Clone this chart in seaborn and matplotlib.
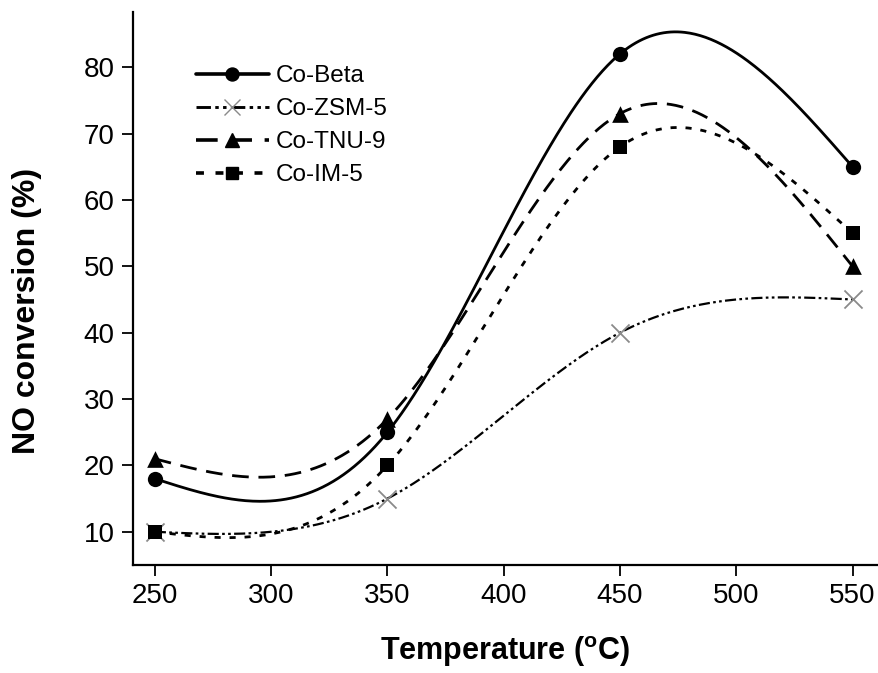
import matplotlib
matplotlib.use("Agg")
import matplotlib.pyplot as plt
import seaborn as sns
import numpy as np
import pandas as pd
from matplotlib.lines import Line2D

# Data
temps = [250, 350, 450, 550]
co_beta = [18, 25, 82, 65]
co_zsm5 = [10, 15, 40, 45]
co_tnu9 = [21, 27, 73, 50]
co_im5 = [10, 20, 68, 55]

series = {
    "Co-Beta": co_beta,
    "Co-ZSM-5": co_zsm5,
    "Co-TNU-9": co_tnu9,
    "Co-IM-5": co_im5,
}

styles = {
    "Co-Beta": dict(dashes=None, lw=2.0, marker="o", mc="black", ms=11),
    "Co-ZSM-5": dict(dashes=(5, 1.5, 1.2, 1.5, 1.2, 1.5), lw=1.6, marker="x", mc="#8a8a8a", ms=13),
    "Co-TNU-9": dict(dashes=(6, 3.5), lw=2.0, marker="^", mc="black", ms=12),
    "Co-IM-5": dict(dashes=(2.2, 3.2), lw=2.0, marker="s", mc="black", ms=10),
}


def natural_spline(x, y, xs):
    # natural cubic spline through the points
    x = np.asarray(x, float)
    y = np.asarray(y, float)
    n = len(x)
    h = np.diff(x)
    A = np.zeros((n, n))
    b = np.zeros(n)
    A[0, 0] = A[-1, -1] = 1
    for i in range(1, n - 1):
        A[i, i - 1] = h[i - 1]
        A[i, i] = 2 * (h[i - 1] + h[i])
        A[i, i + 1] = h[i]
        b[i] = 6 * ((y[i + 1] - y[i]) / h[i] - (y[i] - y[i - 1]) / h[i - 1])
    M = np.linalg.solve(A, b)
    idx = np.clip(np.searchsorted(x, xs) - 1, 0, n - 2)
    x0, x1 = x[idx], x[idx + 1]
    hh = x1 - x0
    t0, t1 = x1 - xs, xs - x0
    return (M[idx] * t0 ** 3 / (6 * hh) + M[idx + 1] * t1 ** 3 / (6 * hh)
            + (y[idx] / hh - M[idx] * hh / 6) * t0
            + (y[idx + 1] / hh - M[idx + 1] * hh / 6) * t1)


sns.set_style("ticks")
plt.rcParams['font.family'] = ['Liberation Sans', 'DejaVu Sans']
plt.rcParams['mathtext.fontset'] = 'custom'
plt.rcParams['mathtext.rm'] = 'Liberation Sans:bold'
plt.rcParams['text.color'] = 'black'
plt.rcParams['axes.labelcolor'] = 'black'
plt.rcParams['xtick.color'] = 'black'
plt.rcParams['ytick.color'] = 'black'

fig = plt.figure(figsize=(8.79, 6.73), dpi=100)
ax = fig.add_axes([0.151, 0.1605, 0.848, 0.8215])

xs = np.linspace(temps[0], temps[-1], 400)
rows = []
for name, vals in series.items():
    rows.append(pd.DataFrame({"T": xs, "conv": natural_spline(temps, vals, xs), "sample": name}))
curves = pd.concat(rows)

handles = []
for name, vals in series.items():
    st = styles[name]
    sub = curves[curves["sample"] == name]
    line, = ax.plot(sub["T"], sub["conv"], color="black", lw=st["lw"])
    if st["dashes"] is not None:
        line.set_dashes(st["dashes"])
    if st["marker"] == "x":
        sns.scatterplot(x=temps, y=vals, ax=ax, marker="x", s=st["ms"] ** 2,
                        color=st["mc"], linewidth=1.3, zorder=5, legend=False)
    else:
        sns.scatterplot(x=temps, y=vals, ax=ax, marker=st["marker"], s=st["ms"] ** 2,
                        color=st["mc"], edgecolor=st["mc"], linewidth=0, zorder=5, legend=False)
    h = Line2D([0], [0], color="black", lw=st["lw"] * 1.3, marker=st["marker"],
               markersize=st["ms"] * 0.85, markerfacecolor=st["mc"], markeredgecolor=st["mc"])
    if st["dashes"] is not None:
        h.set_dashes(st["dashes"])
    handles.append(h)

ax.set_xlim(240.5, 561)
ax.set_ylim(5, 88.3)
ax.set_xticks([250, 300, 350, 400, 450, 500, 550])
ax.set_yticks([10, 20, 30, 40, 50, 60, 70, 80])
ax.tick_params(direction="out", length=8, width=1.3, labelsize=20, colors="black", pad=5)
for s in ["top", "right"]:
    ax.spines[s].set_visible(False)
for s in ["left", "bottom"]:
    ax.spines[s].set_linewidth(1.6)
    ax.spines[s].set_color("black")

ax.set_xlabel(r"Temperature ($\mathregular{^o}$C)", fontsize=22, fontweight="bold", labelpad=18)
ax.set_ylabel("NO conversion (%)", fontsize=23, fontweight="bold")
ax.yaxis.set_label_coords(-0.122, 0.46)

ax.legend(handles, list(series.keys()), loc="upper left", bbox_to_anchor=(0.065, 0.93),
          frameon=False, fontsize=17.5, handlelength=3.0, handletextpad=0.3,
          labelspacing=0.45, borderaxespad=0.2)

plt.savefig("out.png", dpi=100)
